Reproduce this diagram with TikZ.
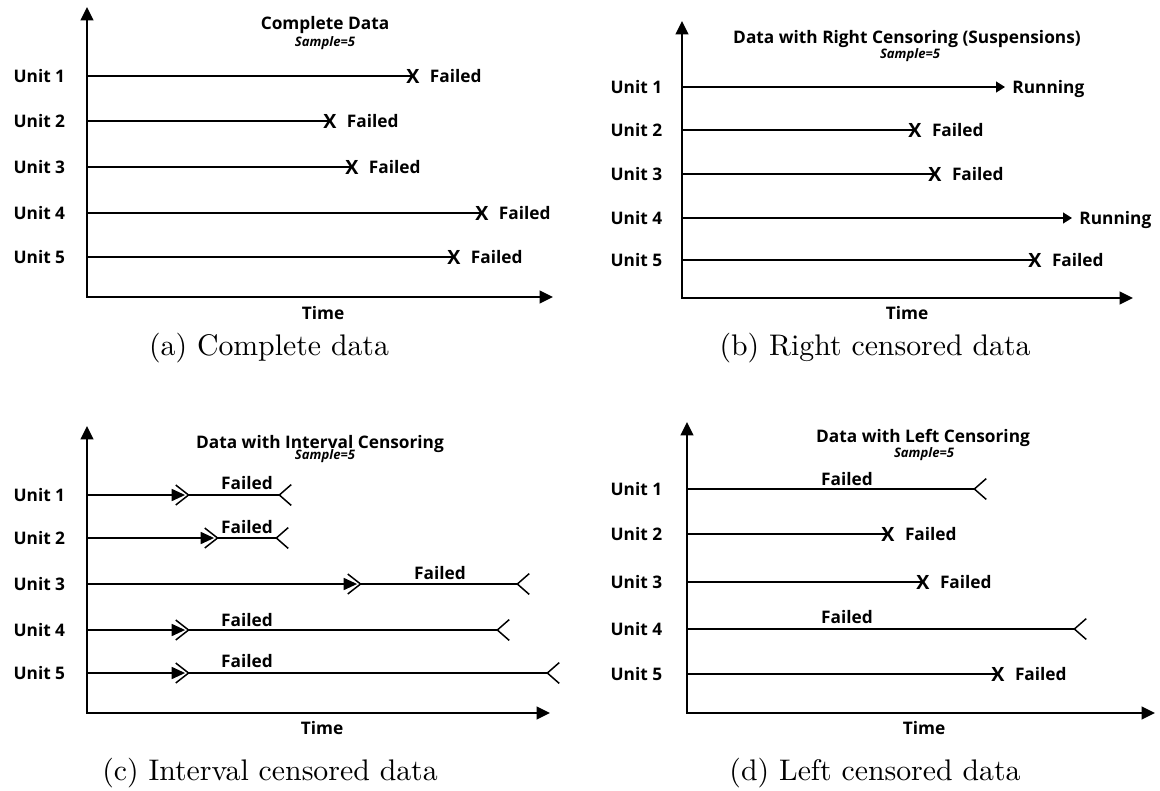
\documentclass[tikz,border=0pt]{standalone}
\usepackage{fontspec}
\newfontfamily\plotfont{Open Sans}
\usetikzlibrary{arrows.meta}
\usetikzlibrary{positioning}

\newcommand\lblfont{\plotfont\bfseries\fontsize{5.8}{7}\selectfont}
\newcommand\smpfont{\plotfont\bfseries\itshape\fontsize{4.4}{5}\selectfont}
\newcommand\failmark{{\plotfont\bfseries\fontsize{6.6}{7}\selectfont X}}

\begin{document}
\begin{tikzpicture}
[every node/.style={font=\lblfont,inner sep=0pt,text depth=0pt},x=0.118mm,y=-0.118mm,
axis/.style={line width=0.9pt,{Triangle[length=4.5pt,width=4.2pt]}-{Triangle[length=4.5pt,width=4.2pt]}},
life/.style={line width=0.6pt},
running/.style={life,-{Triangle[length=3pt,width=3.6pt]}},
inspect/.style={life,-{Triangle[length=4.5pt,width=4pt]},shorten >=-3.4pt},
window/.style={life,{Straight Barb[reversed,length=4.3pt,width=6.7pt,line width=0.5pt]}-{Straight Barb[reversed,length=4pt,width=7pt,line width=0.5pt]}},
leftcens/.style={life,-{Straight Barb[reversed,length=4pt,width=7pt,line width=0.5pt]}},
unit/.style={anchor=west},
sample/.style={font=\smpfont},
caption/.style={font=\fontsize{10}{12}\selectfont,text depth=}]

\useasboundingbox (0,0) rectangle (1160,790);

%(a) complete data
\coordinate (a0) at (87,297);
\coordinate (atop) at (87,7);
\coordinate (aend) at (553,297);
\draw[axis] (atop) -- (a0) -- (aend);
\node (atitle) at (325,23) {Complete Data};
\node[sample] (asample) at (325,42) {Sample=5};
\node (atime) at (323,313) {Time};
\node[caption] (acap) at (269,348) {(a) Complete data};
\node[unit] (a1) at ( 13,76)  {Unit 1};
\node[unit] (a2) at ( 13,121) {Unit 2};
\node[unit] (a3) at ( 13,167) {Unit 3};
\node[unit] (a4) at ( 13,213) {Unit 4};
\node[unit] (a5) at ( 13,257) {Unit 5};
\draw[life] (a0 |- a1) -- (413,76)  node (ax1) {\failmark};
\draw[life] (a0 |- a2) -- (330,121) node (ax2) {\failmark};
\draw[life] (a0 |- a3) -- (352,167) node (ax3) {\failmark};
\draw[life] (a0 |- a4) -- (482,213) node (ax4) {\failmark};
\draw[life] (a0 |- a5) -- (454,257) node (ax5) {\failmark};
\node[right=3pt of ax1] (af1) {Failed};
\node[right=3pt of ax2] (af2) {Failed};
\node[right=3pt of ax3] (af3) {Failed};
\node[right=3pt of ax4] (af4) {Failed};
\node[right=3pt of ax5] (af5) {Failed};

%(b) right censoring
\coordinate (b0) at (682,298);
\coordinate (btop) at (682,21);
\coordinate (bend) at (1133,298);
\draw[axis] (btop) -- (b0) -- (bend);
\node (btitle) at (907,37) {Data with Right Censoring (Suspensions)};
\node[sample] (bsample) at (910,54) {Sample=5};
\node (btime) at (907,313) {Time};
\node[caption] (bcap) at (875,348) {(b) Right censored data};
\node[unit] (b1) at (610,87)  {Unit 1};
\node[unit] (b2) at (610,130) {Unit 2};
\node[unit] (b3) at (610,174) {Unit 3};
\node[unit] (b4) at (610,218) {Unit 4};
\node[unit] (b5) at (610,260) {Unit 5};
\coordinate (br1) at (1005,87);
\coordinate (br4) at (1072,218);
\draw[running] (b0 |- b1) -- (br1);
\draw[life] (b0 |- b2) -- (915,130) node (bx2) {\failmark};
\draw[life] (b0 |- b3) -- (935,174) node (bx3) {\failmark};
\draw[running] (b0 |- b4) -- (br4);
\draw[life] (b0 |- b5) -- (1035,260) node (bx5) {\failmark};
\node[right=2.3pt of br1] (bf1) {Running};
\node[right=3pt of bx2] (bf2) {Failed};
\node[right=3pt of bx3] (bf3) {Failed};
\node[right=2.3pt of br4] (bf4) {Running};
\node[right=3pt of bx5] (bf5) {Failed};

%(c) interval censoring
\coordinate (c0) at (87,713);
\coordinate (ctop) at (87,426);
\coordinate (cend) at (550,713);
\draw[axis] (ctop) -- (c0) -- (cend);
\node (ctitle) at (320,442) {Data with Interval Censoring};
\node[sample] (csample) at (325,455) {Sample=5};
\node (ctime) at (322,728) {Time};
\node[caption] (ccap) at (270,773) {(c) Interval censored data};
\node[unit] (c1) at ( 13,495) {Unit 1};
\node[unit] (c2) at ( 13,538) {Unit 2};
\node[unit] (c3) at ( 13,584) {Unit 3};
\node[unit] (c4) at ( 13,630) {Unit 4};
\node[unit] (c5) at ( 13,673) {Unit 5};
\coordinate (cs1) at (175,495); \coordinate (ce1) at (292,495);
\coordinate (cs2) at (204,538); \coordinate (ce2) at (289,538);
\coordinate (cs3) at (347,584); \coordinate (ce3) at (530,584);
\coordinate (cs4) at (175,630); \coordinate (ce4) at (510,630);
\coordinate (cs5) at (175,673); \coordinate (ce5) at (560,673);
\node (cf1) at (247,483) {Failed};
\node (cf2) at (247,527) {Failed};
\node (cf3) at (440,573) {Failed};
\node (cf4) at (247,620) {Failed};
\node (cf5) at (247,661) {Failed};
\draw[inspect] (c0 |- c1) -- (cs1);
\draw[inspect] (c0 |- c2) -- (cs2);
\draw[inspect] (c0 |- c3) -- (cs3);
\draw[inspect] (c0 |- c4) -- (cs4);
\draw[inspect] (c0 |- c5) -- (cs5);
\draw[window] (cs1) -- (ce1);
\draw[window] (cs2) -- (ce2);
\draw[window] (cs3) -- (ce3);
\draw[window] (cs4) -- (ce4);
\draw[window] (cs5) -- (ce5);

%(d) left censoring
\coordinate (d0) at (687,713);
\coordinate (dtop) at (687,422);
\coordinate (dend) at (1155,713);
\draw[axis] (dtop) -- (d0) -- (dend);
\node (dtitle) at (923,436) {Data with Left Censoring};
\node[sample] (dsample) at (924,453) {Sample=5};
\node (dtime) at (924,728) {Time};
\node[caption] (dcap) at (875,773) {(d) Left censored data};
\node[unit] (d1) at (610,489) {Unit 1};
\node[unit] (d2) at (610,534) {Unit 2};
\node[unit] (d3) at (610,582) {Unit 3};
\node[unit] (d4) at (610,629) {Unit 4};
\node[unit] (d5) at (610,674) {Unit 5};
\coordinate (de1) at (987,489);
\coordinate (de4) at (1087,629);
\draw[leftcens] (d0 |- d1) -- (de1);
\draw[life] (d0 |- d2) -- (888,534) node (dx2) {\failmark};
\draw[life] (d0 |- d3) -- (923,582) node (dx3) {\failmark};
\draw[leftcens] (d0 |- d4) -- (de4);
\draw[life] (d0 |- d5) -- (998,674) node (dx5) {\failmark};
\node (df1) at (847,479) {Failed};
\node[right=3pt of dx2] (df2) {Failed};
\node[right=3pt of dx3] (df3) {Failed};
\node (df4) at (847,617) {Failed};
\node[right=3pt of dx5] (df5) {Failed};
\end{tikzpicture}
\end{document}
